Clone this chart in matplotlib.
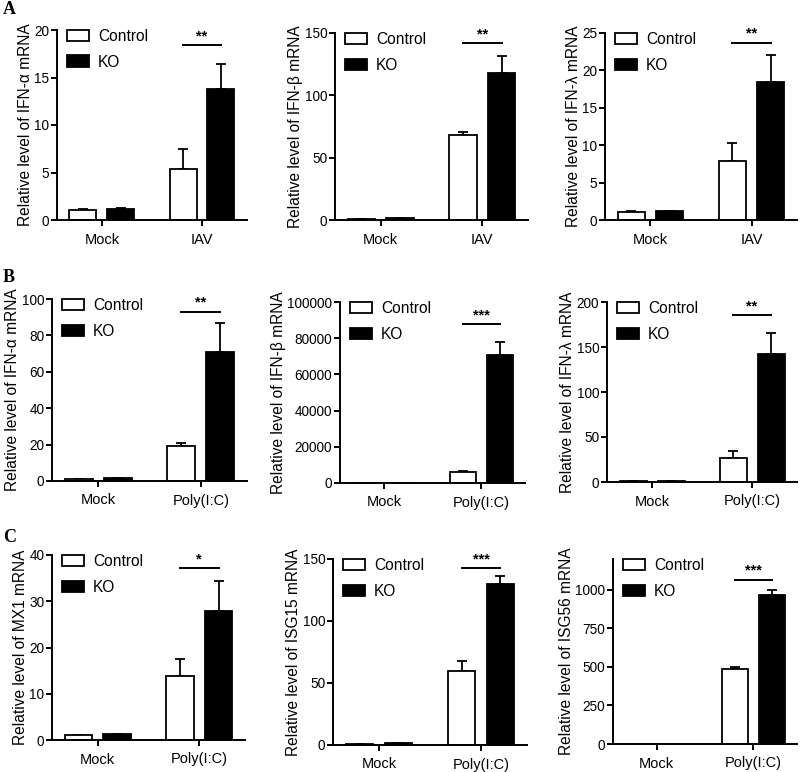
import numpy as np
import matplotlib
matplotlib.use('Agg')
import matplotlib.pyplot as plt

plt.rcParams['font.family'] = ['Liberation Sans', 'DejaVu Sans']

# Data (mean, upper error)
groups_iav = ['Mock', 'IAV']
groups_pic = ['Mock', 'Poly(I:C)']

titles = ['IFN-α', 'IFN-β', 'IFN-λ',
          'IFN-α', 'IFN-β', 'IFN-λ',
          'MX1', 'ISG15', 'ISG56']

ctrl_mean = [[1.1, 5.4], [1.0, 68.5], [1.1, 7.9],
             [1.0, 19.3], [1.0, 6200], [1.0, 26.5],
             [1.0, 13.9], [1.0, 59.7], [1.0, 484]]
ctrl_err = [[0.05, 2.1], [0.1, 2.2], [0.12, 2.4],
            [0.1, 1.6], [0.1, 300], [0.1, 7.8],
            [0.1, 3.6], [0.1, 8.0], [0.1, 18]]
ko_mean = [[1.2, 13.8], [1.5, 118], [1.2, 18.5],
           [1.5, 71.0], [1.0, 70500], [1.0, 142],
           [1.2, 28.0], [1.5, 129.5], [1.0, 967]]
ko_err = [[0.05, 2.6], [0.1, 13.5], [0.05, 3.5],
          [0.1, 15.8], [0.1, 7300], [0.1, 24],
          [0.1, 6.3], [0.1, 6.5], [0.1, 32]]

y_max = [20, 150, 25, 100, 100000, 200, 40, 150, 1200]
y_ticks = [[0, 5, 10, 15, 20], [0, 50, 100, 150], [0, 5, 10, 15, 20, 25],
           [0, 20, 40, 60, 80, 100], [0, 20000, 40000, 60000, 80000, 100000],
           [0, 50, 100, 150, 200], [0, 10, 20, 30, 40], [0, 50, 100, 150],
           [0, 250, 500, 750, 1000]]

sig_label = ['**', '**', '**', '**', '***', '**', '*', '***', '***']
sig_y = [18.4, 142, 23.7, 93, 87800, 185.6, 37.2, 142.7, 1065]

# axes boxes in pixels: left, right, top, bottom
boxes = [(57, 247, 30, 220), (335, 528, 33, 220), (605, 797, 33, 220),
         (52, 247, 299, 481), (340, 525, 302, 483), (607, 797, 302, 482),
         (52, 245, 555, 740), (333, 527, 559, 745), (613, 797, 559, 744)]

W, H = 800, 772
fig = plt.figure(figsize=(W / 100, H / 100), dpi=100)

x = np.array([0, 1])
bw = 0.27
off = 0.19

for i in range(9):
    l, r, t, b = boxes[i]
    ax = fig.add_axes([l / W, 1 - b / H, (r - l) / W, (b - t) / H])
    cm = np.array(ctrl_mean[i])
    km = np.array(ko_mean[i])
    ce = np.array(ctrl_err[i])
    ke = np.array(ko_err[i])
    ax.bar(x - off, cm, bw, color='white', edgecolor='black', linewidth=1.3,
           label='Control', zorder=2)
    ax.bar(x + off, km, bw, color='black', edgecolor='black', linewidth=1.3,
           label='KO', zorder=2)
    ax.errorbar(x - off, cm, yerr=[np.zeros(2), ce], fmt='none', ecolor='black',
                elinewidth=1.3, capsize=3.5, capthick=1.3, zorder=1)
    ax.errorbar(x + off, km, yerr=[np.zeros(2), ke], fmt='none', ecolor='black',
                elinewidth=1.3, capsize=3.5, capthick=1.3, zorder=1)

    ax.set_xlim(-0.45, 1.45)
    ax.set_ylim(0, y_max[i])
    ax.set_yticks(y_ticks[i])
    ax.set_xticks(x)
    ax.set_xticklabels(groups_iav if i < 3 else groups_pic)
    for s in ['top', 'right']:
        ax.spines[s].set_visible(False)
    for s in ['left', 'bottom']:
        ax.spines[s].set_linewidth(1.4)
    ax.tick_params(axis='both', width=1.4, length=4, pad=2)
    ax.tick_params(axis='y', labelsize=9.8, pad=1.5)
    ax.tick_params(axis='x', labelsize=10.5, pad=5)
    ax.set_ylabel('Relative level of ' + titles[i] + ' mRNA', fontsize=11.2, labelpad=1)

    # significance bar
    ax.plot([1 - off, 1 + off], [sig_y[i], sig_y[i]], color='black', lw=1.4,
            clip_on=False)
    ax.text(1, sig_y[i] + y_max[i] * 0.010, sig_label[i], ha='center', va='bottom',
            fontsize=10.5, fontweight='bold')

    ax.legend(loc='upper left', bbox_to_anchor=(0.02, 1.04), frameon=False,
              fontsize=11.2, handlelength=1.4, handleheight=0.75, labelspacing=0.7,
              handletextpad=0.6, borderaxespad=0)

for lab, yy in [('A', 10), ('B', 278), ('C', 537)]:
    fig.text(3 / W, 1 - yy / H, lab, fontsize=13, fontweight='bold',
             family='Liberation Serif', va='center', ha='left')

fig.savefig('out.png', dpi=100)
